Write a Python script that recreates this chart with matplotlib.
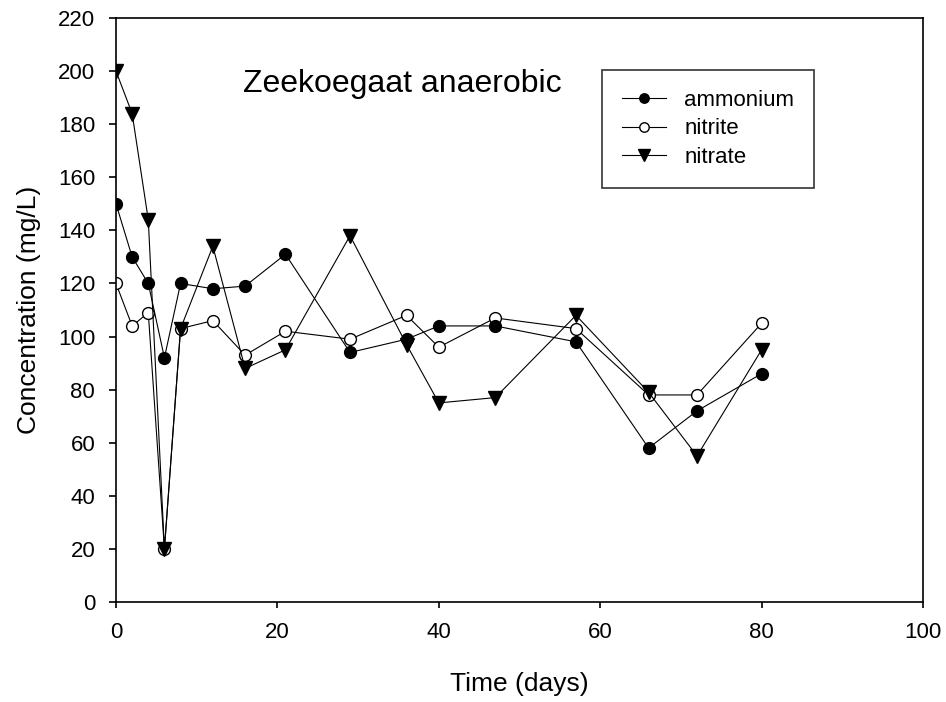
import matplotlib
matplotlib.use("Agg")
import matplotlib.pyplot as plt

plt.rcParams["font.family"] = ["Liberation Sans", "DejaVu Sans"]

# sampling days for each species
ammonium_days = [0, 2, 4, 6, 8, 12, 16, 21, 29, 36, 40, 47, 57, 66, 72, 80]
ammonium = [150, 130, 120, 92, 120, 118, 119, 131, 94, 99, 104, 104, 98, 58, 72, 86]

nitrite_days = [0, 2, 4, 6, 8, 12, 16, 21, 29, 36, 40, 47, 57, 66, 72, 80]
nitrite = [120, 104, 109, 20, 103, 106, 93, 102, 99, 108, 96, 107, 103, 78, 78, 105]

nitrate_days = [0, 2, 4, 6, 8, 12, 16, 21, 29, 36, 40, 47, 57, 66, 72, 80]
nitrate = [200, 184, 144, 20, 103, 134, 88, 95, 138, 97, 75, 77, 108, 79, 55, 95]

x_ticks = [0, 20, 40, 60, 80, 100]
y_ticks = list(range(0, 221, 20))

fig = plt.figure(figsize=(9.46, 7.02), dpi=100)
ax = fig.add_axes([116 / 946, 1 - 602 / 702, 807 / 946, 584 / 702])

lw = 0.8
ax.plot(ammonium_days, ammonium, color="black", lw=lw, marker="o", ms=8.5,
        mfc="black", mec="black", label="ammonium", zorder=3)
ax.plot(nitrite_days, nitrite, color="black", lw=lw, marker="o", ms=8.5,
        mfc="white", mec="black", mew=1.0, label="nitrite", zorder=2)
ax.plot(nitrate_days, nitrate, color="black", lw=lw, marker="v", ms=10,
        mfc="black", mec="black", label="nitrate", zorder=4)

ax.set_xlim(0, 100)
ax.set_ylim(0, 220)
ax.set_xticks(x_ticks)
ax.set_yticks(y_ticks)
ax.tick_params(direction="out", length=5, width=1.2, labelsize=16,
               top=False, right=False, colors="black")
ax.tick_params(axis="x", pad=10, length=4.5)
ax.tick_params(axis="y", pad=10)
for s in ax.spines.values():
    s.set_linewidth(1.2)

ax.set_xlabel("Time (days)", fontsize=19, labelpad=21)
ax.set_ylabel("Concentration (mg/L)", fontsize=19, labelpad=12)

ax.text(0.157, 0.887, "Zeekoegaat anaerobic", transform=ax.transAxes,
        fontsize=23, ha="left", va="center")

leg = ax.legend(loc="upper left", bbox_to_anchor=(602 / 946, 1 - 70 / 702),
                bbox_transform=fig.transFigure, fontsize=16, frameon=True,
                fancybox=False, handlelength=2.0, handletextpad=0.8,
                labelspacing=0.33, borderpad=0.9, borderaxespad=0,
                markerscale=0.8)
leg.get_frame().set_edgecolor("black")
leg.get_frame().set_linewidth(1.2)

fig.savefig("out.png", dpi=100)
